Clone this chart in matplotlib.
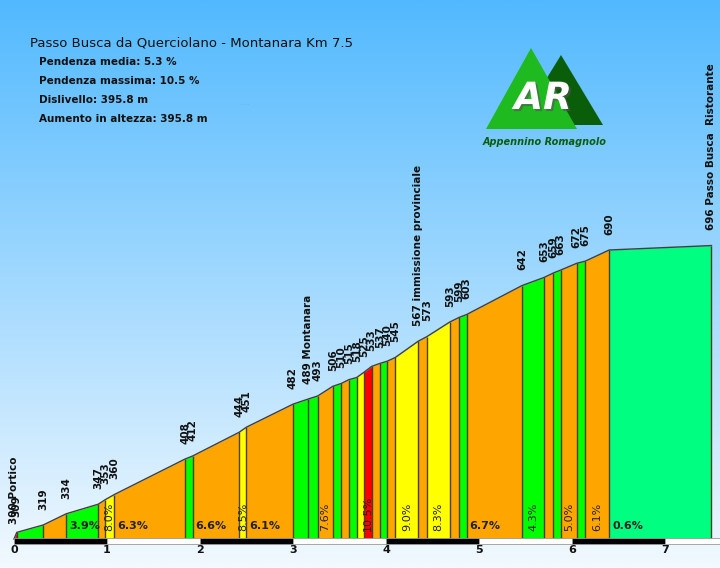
import numpy as np
import matplotlib
matplotlib.use("Agg")
import matplotlib.pyplot as plt
from matplotlib.patches import Polygon
import matplotlib.patheffects as pe

# profile points (km, elevation m)
km = [0, 0.03, 0.315, 0.56, 0.906, 0.98, 1.078, 1.84, 1.92, 2.42, 2.50, 3.00,
      3.165, 3.265, 3.427, 3.52, 3.60, 3.685, 3.763, 3.846, 3.935, 4.014, 4.10,
      4.347, 4.438, 4.688, 4.785, 4.868, 5.462, 5.70, 5.80, 5.88, 6.05, 6.143,
      6.40, 7.5]
elev = [300, 309, 319, 334, 347, 353, 360, 408, 412, 444, 451, 482,
        489, 493, 506, 510, 515, 518, 525, 533, 537, 540, 545,
        567, 573, 593, 599, 603, 642, 653, 659, 663, 672, 675,
        690, 696]
point_names = {0: "Portico", 12: "Montanara", 23: "immissione provinciale",
               35: "Passo Busca  Ristorante"}

# gradient of each segment (%)
grades = [12.0, 3.5, 6.1, 3.9, 7.5, 8.0, 6.3, 4.5, 6.6, 8.5, 6.1, 4.2,
          4.0, 7.6, 4.3, 6.2, 3.5, 9.0, 10.5, 5.5, 3.8, 5.8, 9.0,
          6.6, 8.3, 6.2, 4.8, 6.7, 4.3, 6.0, 4.8, 5.0, 3.2, 6.1, 0.6]
# segments whose gradient is written on the chart
labelled = [3, 5, 6, 8, 9, 10, 13, 18, 22, 24, 27, 28, 31, 33, 34]

title = "Passo Busca da Querciolano - Montanara Km 7.5"
stats = ["Pendenza media: 5.3 %", "Pendenza massima: 10.5 %",
         "Dislivello: 395.8 m", "Aumento in altezza: 395.8 m"]
km_ticks = [0, 1, 2, 3, 4, 5, 6, 7]


def grade_color(g):
    if g < 2:
        return "#00ff80"
    if g < 5:
        return "#00ff00"
    if g < 8:
        return "#ffa500"
    if g < 10:
        return "#ffff00"
    return "#ff0000"


W, H = 720, 568
PX_KM = 93.0      # pixels per km
X0 = 14           # pixel of km 0
PX_M = 0.7411     # pixels per metre
Y690 = 250        # pixel of 690 m


def yv(py):
    return 690 - (py - Y690) / PX_M


fig = plt.figure(figsize=(W / 100, H / 100), dpi=100)
ax = fig.add_axes([0, 0, 1, 1])
xmin, xmax = -X0 / PX_KM, (W - X0) / PX_KM
ymin, ymax = yv(H), yv(0)
ax.set_xlim(xmin, xmax)
ax.set_ylim(ymin, ymax)
ax.axis("off")

# sky background
top = np.array([0x52, 0xb9, 0xfe]) / 255
bot = np.array([0xf2, 0xf9, 0xff]) / 255
t = np.linspace(0, 1, 256)[:, None]
grad = (top * (1 - t) + bot * t)[:, None, :]
ax.imshow(grad, extent=[xmin, xmax, ymin, ymax], aspect="auto", zorder=0,
          origin="upper")

base = yv(541)
edge = "#4a4020"
for i in range(len(km) - 1):
    ax.fill_between([km[i], km[i + 1]], [elev[i], elev[i + 1]], base,
                    color=grade_color(grades[i]), lw=0, zorder=2)
ax.vlines(km[1:], base, elev[1:], color=edge, lw=1, zorder=3)
ax.plot(km, elev, color="#404040", lw=1, zorder=3)

# gradient labels
ylab = yv(531)
for i in labelled:
    w = km[i + 1] - km[i]
    txt = f"{grades[i]:.1f}%"
    if w > 0.3:
        ax.text(km[i] + 3 / PX_KM, ylab, txt, ha="left", va="bottom",
                fontsize=8, fontweight="bold", color="#222", zorder=4)
    else:
        ax.text((km[i] + km[i + 1]) / 2, ylab, txt, ha="center", va="bottom",
                rotation=90, fontsize=8, color="#222", zorder=4)

# point labels
for i, (x, e) in enumerate(zip(km, elev)):
    lab = str(e)
    if i in point_names:
        lab += " " + point_names[i]
    ax.annotate(lab, (x, e), xytext=(0, 11), textcoords="offset points",
                rotation=90, ha="center", va="bottom", fontsize=7.5,
                fontweight="bold", color="#111", zorder=4)

# km bar
bar_lo, bar_hi = yv(544), yv(538)
for k in range(8):
    x1 = min(k + 1, xmax)
    ax.bar(k, bar_hi - bar_lo, width=x1 - k, bottom=bar_lo, align="edge",
           color="black" if k % 2 == 0 else "white", edgecolor="#999",
           lw=0.6, zorder=5)
for k in km_ticks:
    ax.text(k, yv(550), str(k), ha="center", va="center", fontsize=8,
            fontweight="bold", color="#111", zorder=5)

# overlay in pixel coordinates for title and logo
ov = fig.add_axes([0, 0, 1, 1])
ov.set_xlim(0, W)
ov.set_ylim(H, 0)
ov.axis("off")
ov.patch.set_alpha(0)

ov.text(30, 43, title, fontsize=9.5, color="#111", va="center", ha="left")
for j, s in enumerate(stats):
    ov.text(39, 62 + 19 * j, s, fontsize=7.5, fontweight="bold", color="#111",
            va="center", ha="left")
ov.text(245, 104, "- - -", fontsize=3.5, color="#6aa8d8", ha="center",
        va="center")

ov.add_patch(Polygon([(561, 55), (603, 125), (518, 125)], closed=True,
                     color="#0a5e0a", lw=0))
ov.add_patch(Polygon([(531, 48), (577, 129), (486, 129)], closed=True,
                     color="#1fba1f", lw=0))
ov.text(543, 99, "AR", fontsize=27, fontweight="bold", style="italic",
        color="white", ha="center", va="center",
        path_effects=[pe.withSimplePatchShadow(offset=(1.5, -1.5),
                                               shadow_rgbFace="#555",
                                               alpha=0.6)])
ov.text(545, 142, "Appennino Romagnolo", fontsize=7, fontweight="bold",
        style="italic", color="#0a5e0a", ha="center", va="center")

fig.savefig("out.png", dpi=100)
